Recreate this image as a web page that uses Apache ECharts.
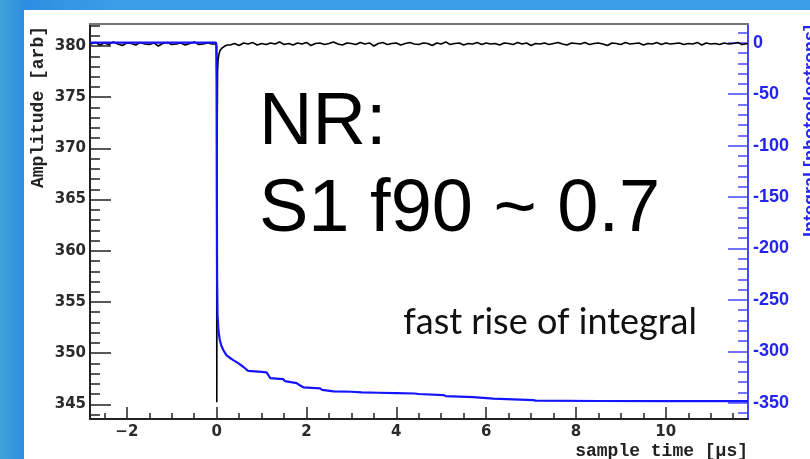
<!DOCTYPE html>
<html>
<head>
<meta charset="utf-8">
<script src="https://cdn.jsdelivr.net/npm/echarts@6/dist/echarts.min.js"></script>
<style>
html,body{margin:0;padding:0;width:810px;height:459px;overflow:hidden;
  background:linear-gradient(to right,#40a3d6 0px,#2d8de2 24px,#3a9ee8 120px,#3a9ee8 100%);}
#panel{position:absolute;left:24px;top:10px;width:786px;height:449px;background:#fff;}
#chart{position:absolute;left:0;top:0;width:810px;height:459px;}
</style>
</head>
<body>
<div id="panel"></div>
<div id="chart"></div>
<script>
// ---- data ----
const xMajor = [-2, 0, 2, 4, 6, 8, 10];
const xMinor = [-2.5, -1.5, -1, -0.5, 0.5, 1, 1.5, 2.5, 3, 3.5, 4.5, 5, 5.5, 6.5, 7, 7.5, 8.5, 9, 9.5, 10.5, 11, 11.5];
const ampMajor = [345, 350, 355, 360, 365, 370, 375, 380];
const ampMinor = [344, 346, 347, 348, 349, 351, 352, 353, 354, 356, 357, 358, 359, 361, 362, 363, 364, 366, 367, 368, 369, 371, 372, 373, 374, 376, 377, 378, 379, 381, 382];
const intMajor = [-350, -300, -250, -200, -150, -100, -50, 0];
const intMinor = [-360, -340, -330, -320, -310, -290, -280, -270, -260, -240, -230, -220, -210, -190, -180, -170, -160, -140, -130, -120, -110, -90, -80, -70, -60, -40, -30, -20, -10, 10];

// amplitude trace (black)
const ampTime = [
 -2.8,-2.7,-2.6,-2.5,-2.4,-2.3,-2.2,-2.1,-2.0,-1.9,-1.8,-1.7,-1.6,-1.5,-1.4,-1.3,-1.2,-1.1,-1.0,-0.9,-0.8,-0.7,-0.6,-0.5,-0.4,-0.3,-0.2,-0.1,
 -0.02, 0.0, 0.003, 0.012, 0.02, 0.03, 0.05, 0.08, 0.12, 0.18, 0.24,
 0.3,0.4,0.5,0.6,0.7,0.8,0.9,1.0,1.1,1.2,
 1.3,1.4,1.5,1.6,1.7,1.8,1.9,2.0,2.1,2.2,
 2.3,2.4,2.5,2.6,2.7,2.8,2.9,3.0,3.1,3.2,
 3.3,3.4,3.5,3.6,3.7,3.8,3.9,4.0,4.1,4.2,
 4.3,4.4,4.5,4.6,4.7,4.8,4.9,5.0,5.1,5.2,
 5.3,5.4,5.5,5.6,5.7,5.8,5.9,6.0,6.1,6.2,
 6.3,6.4,6.5,6.6,6.7,6.8,6.9,7.0,7.1,7.2,
 7.3,7.4,7.5,7.6,7.7,7.8,7.9,8.0,8.1,8.2,
 8.3,8.4,8.5,8.6,8.7,8.8,8.9,9.0,9.1,9.2,
 9.3,9.4,9.5,9.6,9.7,9.8,9.9,10.0,10.1,10.2,
 10.3,10.4,10.5,10.6,10.7,10.8,10.9,11.0,11.1,11.2,
 11.3,11.4,11.5,11.6,11.7,11.83
];
const ampValue = [
 380.2,380.35,380.1,380.3,380.15,380.4,380.2,380.05,380.3,380.25,380.1,380.35,380.2,380.15,380.3,380.0,380.25,380.35,380.15,380.2,380.3,380.1,380.25,380.4,380.15,380.2,380.3,380.2,
 380.2, 380.0, 345.2, 372.0, 377.5, 378.6, 379.2, 379.6, 379.8, 380.0, 380.1,
 380.1,380.25,380.05,380.3,380.2,380.35,380.1,380.25,380.15,380.3,
 380.2,380.4,380.15,380.25,380.1,380.3,380.2,380.35,380.05,380.25,
 380.3,380.15,380.25,380.4,380.2,380.1,380.3,380.25,380.15,380.35,
 380.2,380.3,380.0,380.25,380.35,380.15,380.25,380.3,380.1,380.25,
 380.35,380.2,380.15,380.3,380.25,380.05,380.3,380.2,380.4,380.15,
 380.25,380.3,380.1,380.25,380.2,380.35,380.15,380.3,380.2,380.25,
 380.1,380.3,380.25,380.15,380.35,380.2,380.3,380.05,380.25,380.2,
 380.3,380.15,380.25,380.35,380.2,380.1,380.3,380.25,380.2,380.35,
 380.15,380.25,380.3,380.2,380.05,380.3,380.25,380.15,380.35,380.2,
 380.25,380.3,380.1,380.25,380.2,380.35,380.15,380.3,380.2,380.25,
 380.3,380.15,380.25,380.2,380.35,380.1,380.3,380.2,380.25,380.15,
 380.3,380.2,380.25,380.35,380.15,380.25
];

// integral trace (blue)
const intTime = [-2.82, -0.01, 0.0, 0.005, 0.01, 0.02, 0.04, 0.07, 0.1, 0.15, 0.22, 0.3, 0.37, 0.48, 0.59, 0.7, 0.85, 1.0, 1.11, 1.15, 1.19, 1.48, 1.52, 1.56, 1.78, 1.85, 1.93, 2.3, 2.35, 2.6, 3.0, 3.23, 3.6, 4.0, 4.4, 4.5, 5.05, 5.1, 5.71, 5.75, 6.16, 6.2, 7.05, 7.1, 8.5, 10.0, 11.83];
const intValue = [0, 0, -40, -150, -230, -265, -280, -289, -294, -299, -304, -306.5, -308.5, -311.5, -315, -319, -319.5, -320, -320.5, -323, -326, -327, -329, -330, -331, -333, -335, -336, -337.5, -339, -339.3, -340, -340.3, -340.6, -341, -341.5, -342.5, -343.5, -344.5, -345, -346, -347, -347.5, -348, -348.3, -348.5, -348.5];

const chart = echarts.init(document.getElementById('chart'), null, {renderer: 'canvas'});
const pair = (xs, ys) => xs.map((x, i) => [x, ys[i]]);
const blue = '#4646ff';
const lblFont = {fontFamily: 'DejaVu Sans', fontWeight: 'bold', fontSize: 15, color: '#2a2a2a'};
const minus = v => String(v).replace('-', '\u2212');

const option = {
  animation: false,
  backgroundColor: 'transparent',
  grid: {left: 90, right: 62, top: 24, bottom: 40, containLabel: false},
  xAxis: [
    {type: 'value', min: -2.82, max: 11.83, position: 'bottom',
     axisLine: {show: true, onZero: false, lineStyle: {color: '#222', width: 2}},
     axisTick: {show: true, inside: true, length: 12, customValues: xMajor, lineStyle: {color: '#222', width: 1.5}},
     axisLabel: {show: true, customValues: xMajor, margin: 6, formatter: minus, ...lblFont},
     splitLine: {show: false}},
    {type: 'value', min: -2.82, max: 11.83, position: 'bottom',
     axisLine: {show: false, onZero: false},
     axisTick: {show: true, inside: true, length: 6, customValues: xMinor, lineStyle: {color: '#222', width: 1.5}},
     axisLabel: {show: false}, splitLine: {show: false}},
    {type: 'value', min: -2.82, max: 11.83, position: 'top',
     axisLine: {show: true, onZero: false, lineStyle: {color: '#777', width: 2}},
     axisTick: {show: false}, axisLabel: {show: false}, splitLine: {show: false}}
  ],
  yAxis: [
    {type: 'value', min: 343.57, max: 382.15, position: 'left',
     axisLine: {show: true, onZero: false, lineStyle: {color: '#222', width: 2}},
     axisTick: {show: true, inside: true, length: 21, customValues: ampMajor, lineStyle: {color: '#222', width: 1.5}},
     axisLabel: {show: true, customValues: ampMajor, margin: 4, ...lblFont},
     splitLine: {show: false}},
    {type: 'value', min: 343.57, max: 382.15, position: 'left',
     axisLine: {show: false, onZero: false},
     axisTick: {show: true, inside: true, length: 10, customValues: ampMinor, lineStyle: {color: '#222', width: 1.5}},
     axisLabel: {show: false}, splitLine: {show: false}},
    {type: 'value', min: -365.8, max: 18.2, position: 'right',
     axisLine: {show: true, onZero: false, lineStyle: {color: blue, width: 2}},
     axisTick: {show: true, inside: true, length: 20, customValues: intMajor, lineStyle: {color: blue, width: 1.5}},
     axisLabel: {show: true, customValues: intMajor, margin: 5, fontFamily: 'Liberation Sans', fontWeight: 'bold', fontSize: 18, color: '#2424f0'},
     splitLine: {show: false}},
    {type: 'value', min: -365.8, max: 18.2, position: 'right',
     axisLine: {show: false, onZero: false},
     axisTick: {show: true, inside: true, length: 10, customValues: intMinor, lineStyle: {color: blue, width: 1.5}},
     axisLabel: {show: false}, splitLine: {show: false}}
  ],
  series: [
    {type: 'line', name: 'Amplitude', xAxisIndex: 0, yAxisIndex: 0, data: pair(ampTime, ampValue),
     showSymbol: false, symbol: 'none', lineStyle: {color: '#000', width: 1.6}, z: 3},
    {type: 'line', name: 'Integral', xAxisIndex: 0, yAxisIndex: 2, data: pair(intTime, intValue),
     showSymbol: false, symbol: 'none', lineStyle: {color: '#1414ff', width: 2.2}, z: 4}
  ],
  graphic: [
    {type: 'text', x: 38, y: 107, rotation: Math.PI / 2,
     style: {text: 'Amplitude [arb]', font: 'bold 18px "Liberation Mono"', fill: '#222',
             align: 'center', verticalAlign: 'middle', textAlign: 'center', textVerticalAlign: 'middle'}},
    {type: 'text', x: 748, y: 451,
     style: {text: 'sample time [\u00b5s]', font: 'bold 18px "Liberation Mono"', fill: '#222',
             align: 'right', verticalAlign: 'middle', textAlign: 'right', textVerticalAlign: 'middle'}},
    {type: 'text', x: 811, y: 131, rotation: Math.PI / 2,
     style: {text: 'Integral [photoelectrons]', font: 'bold 18px "Liberation Sans"', fill: '#2424f0',
             align: 'center', verticalAlign: 'middle', textAlign: 'center', textVerticalAlign: 'middle'}},
    {type: 'text', x: 259, y: 124,
     style: {text: 'NR:', font: '74px "Liberation Sans"', fill: '#000',
             align: 'left', verticalAlign: 'middle', textAlign: 'left', textVerticalAlign: 'middle'}},
    {type: 'text', x: 259, y: 211,
     style: {text: 'S1 f90 ~ 0.7', font: '74px "Liberation Sans"', fill: '#000',
             align: 'left', verticalAlign: 'middle', textAlign: 'left', textVerticalAlign: 'middle'}},
    {type: 'text', x: 697, y: 322,
     style: {text: 'fast rise of integral', font: '36px Lato', fill: '#111',
             align: 'right', verticalAlign: 'middle', textAlign: 'right', textVerticalAlign: 'middle'}}
  ]
};
chart.setOption(option);
</script>
</body>
</html>
